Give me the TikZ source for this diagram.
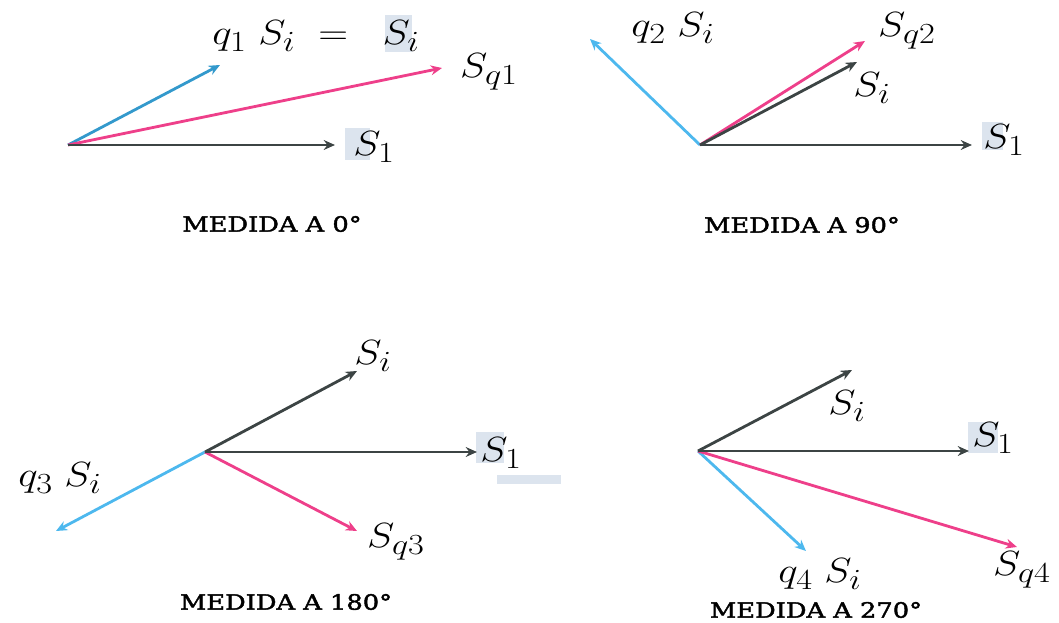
\documentclass[tikz,border=0pt]{standalone}
\usepackage{fontspec}
\usepackage{graphicx}
\newfontfamily\capfont[FakeStretch=1.22,FakeBold=2]{DejaVu Serif}
\usetikzlibrary{arrows.meta}
\newcommand\sbx[1]{\hbox{\fontsize{21}{21}\selectfont$#1$}}
\newcommand\lbl[1]{\scalebox{1.18}[1]{$#1$}}
\definecolor{vgray}{HTML}{3C4444}
\definecolor{vcyan}{HTML}{4DB8EE}
\definecolor{vcyanD}{HTML}{3399CC}
\definecolor{vpink}{HTML}{EE3F8A}
\definecolor{hilite}{HTML}{DCE4EE}
\tikzset{
  vec/.style={line width=2pt,-{Stealth[length=8pt,width=7pt]}},
  gvec/.style={vec,vgray},
  cvec/.style={vec,vcyan},
  pvec/.style={vec,vpink},
  lab/.style={inner sep=0pt,font=\fontsize{26}{30}\selectfont},
  captext/.style={inner sep=0pt,font=\capfont\fontsize{15}{18}\selectfont},
  hl/.style={fill=hilite,draw=none}
}
\begin{document}
\begin{tikzpicture}[x=0.025cm,y=-0.025cm]
\useasboundingbox (0,0) rectangle (1059,623);
% faint highlight marks
\fill[hl] (385,15) rectangle (412,52);
\fill[hl] (497,475) rectangle (561,484);
\fill[hl] (345,128) rectangle (370,160);
\fill[hl] (982,122) rectangle (1003,150);
\fill[hl] (476,432) rectangle (504,463);
\fill[hl] (968,422) rectangle (998,453);
% ---------- panel 1 : 0 deg ----------
\coordinate (o1) at (68,145);
\coordinate (s1a) at (335,145);
\coordinate (q1a) at (220,65);
\coordinate (p1a) at (442,68);
\draw[cvec,vcyanD] (o1) -- (q1a);
\draw[pvec] (o1) -- (p1a);
\draw[gvec] (o1) -- (s1a);
\node[lab] (ls1a) at (374,147) {\lbl{S_{\sbx{1}}}};
\node[lab] (lq1) at (316,36) {\lbl{q_{\sbx{1}}\;S_{\sbx{i}}\;=\;\;S_{\sbx{i}}}};
\node[lab] (lp1) at (489,72) {\lbl{S_{\sbx{q1}}}};
\node[captext] (c1) at (272,224) {MEDIDA A 0°};
% ---------- panel 2 : 90 deg ----------
\coordinate (o2) at (700,145);
\coordinate (s1b) at (972,145);
\coordinate (q2a) at (590,39);
\coordinate (p2a) at (865,41);
\coordinate (si2) at (857,62);
\draw[cvec] (o2) -- (q2a);
\draw[pvec] (o2) -- (p2a);
\draw[gvec] (o2) -- (si2);
\draw[gvec] (o2) -- (s1b);
\node[lab] (ls1b) at (1004,140) {\lbl{S_{\sbx{1}}}};
\node[lab] (lq2) at (673,28) {\lbl{q_{\sbx{2}}\;S_{\sbx{i}}}};
\node[lab] (lp2) at (907,31) {\lbl{S_{\sbx{q2}}}};
\node[lab] (lsi2) at (872,88) {\lbl{S_{\sbx{i}}}};
\node[captext] (c2) at (802,225) {MEDIDA A 90°};
% ---------- panel 3 : 180 deg ----------
\coordinate (o3) at (205,452);
\coordinate (s1c) at (477,452);
\coordinate (si3) at (357,371);
\coordinate (q3a) at (56,531);
\coordinate (p3a) at (357,531);
\draw[cvec] (o3) -- (q3a);
\draw[pvec] (o3) -- (p3a);
\draw[gvec] (o3) -- (si3);
\draw[gvec] (o3) -- (s1c);
\node[lab] (ls1c) at (501,453) {\lbl{S_{\sbx{1}}}};
\node[lab] (lsi3) at (373,356) {\lbl{S_{\sbx{i}}}};
\node[lab] (lq3) at (60,478) {\lbl{q_{\sbx{3}}\;S_{\sbx{i}}}};
\node[lab] (lp3) at (396,542) {\lbl{S_{\sbx{q3}}}};
\node[captext] (c3) at (286,602) {MEDIDA A 180°};
% ---------- panel 4 : 270 deg ----------
\coordinate (o4) at (698,451);
\coordinate (s1d) at (969,451);
\coordinate (si4) at (852,370);
\coordinate (q4a) at (806,551);
\coordinate (p4a) at (1017,547);
\draw[cvec] (o4) -- (q4a);
\draw[pvec] (o4) -- (p4a);
\draw[gvec] (o4) -- (si4);
\draw[gvec] (o4) -- (s1d);
\node[lab] (ls1d) at (993,438) {\lbl{S_{\sbx{1}}}};
\node[lab] (lsi4) at (847,406) {\lbl{S_{\sbx{i}}}};
\node[lab] (lq4) at (820,574) {\lbl{q_{\sbx{4}}\;S_{\sbx{i}}}};
\node[lab] (lp4) at (1022,570) {\lbl{S_{\sbx{q4}}}};
\node[captext] (c4) at (816,610) {MEDIDA A 270°};
\end{tikzpicture}
\end{document}
